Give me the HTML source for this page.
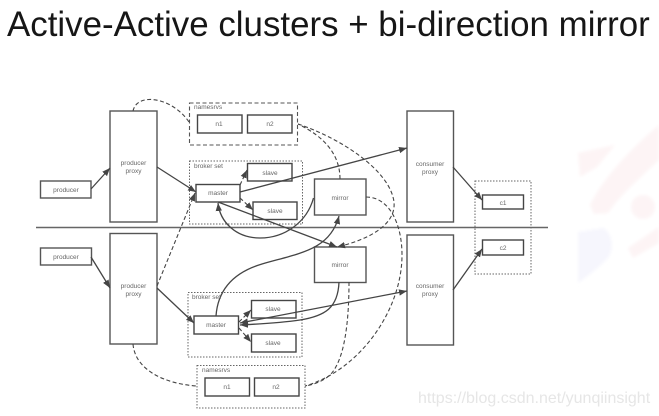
<!DOCTYPE html>
<html><head><meta charset="utf-8"><style>
html,body{margin:0;padding:0;background:#fff}
svg{display:block}
text{font-family:"Liberation Sans",sans-serif}
</style></head><body>
<svg width="659" height="416" viewBox="0 0 659 416" xmlns="http://www.w3.org/2000/svg">
<defs>
<marker id="a" markerWidth="9" markerHeight="8" refX="8" refY="4" orient="auto-start-reverse" markerUnits="userSpaceOnUse"><path d="M0 .8L8 4L0 7.2Z" fill="#444"/></marker>
<filter id="b" x="-5%" y="-5%" width="110%" height="110%"><feGaussianBlur stdDeviation="0.35"/></filter>
<filter id="c" x="-10%" y="-10%" width="120%" height="120%"><feGaussianBlur stdDeviation="1.5"/></filter>
<filter id="t" x="-2%" y="-20%" width="104%" height="140%"><feGaussianBlur stdDeviation="0.3"/></filter>
</defs>
<g filter="url(#c)" fill="#fdf4f5">
<path d="M578 153L615 145L597 167L580 177Z"/>
<path d="M590 205C605 175 635 145 659 125L659 160C640 178 620 195 608 213L594 214Z"/>
<circle cx="643" cy="207" r="12"/>
<path d="M578 232L603 228C612 232 616 250 606 260C598 268 588 276 578 283Z" fill="#f6f6fd"/>
<path d="M628 248L659 227L659 243L633 258Z"/>
</g>
<text x="7" y="36" font-size="34.900" fill="#151515" filter="url(#t)">Active-Active clusters + bi-direction mirror</text>
<g filter="url(#b)">
<line x1="36" y1="227.500" x2="548" y2="227.500" stroke="#666" stroke-width="1.500"/>
<g fill="#fff" stroke="#555" stroke-width="1.400">
<rect x="40.500" y="181" width="50.500" height="17"/>
<rect x="110" y="111" width="47" height="111"/>
<rect x="40.500" y="248" width="51" height="17"/>
<rect x="110" y="233.500" width="47" height="110.500"/>
<rect x="407" y="111" width="46.500" height="111"/>
<rect x="407" y="235" width="46.500" height="110"/>
<rect x="314.500" y="179" width="51.500" height="36"/>
<rect x="314.500" y="247" width="51.500" height="35.500"/>
</g>
<g fill="none">
<rect x="189.500" y="103" width="108" height="42" stroke="#555" stroke-width="1.100" stroke-dasharray="4 2.500"/>
<rect x="189.500" y="161" width="113" height="63" stroke="#666" stroke-width="1" stroke-dasharray="1.500 1.500"/>
<rect x="188" y="292.500" width="114" height="64.500" stroke="#666" stroke-width="1" stroke-dasharray="1.500 1.500"/>
<rect x="197" y="365.500" width="108" height="42.500" stroke="#666" stroke-width="1" stroke-dasharray="1.500 1.500"/>
<rect x="475" y="181" width="56" height="93" stroke="#666" stroke-width="1" stroke-dasharray="1.500 1.500"/>
</g>
<g fill="#fff" stroke="#444" stroke-width="1.400">
<rect x="197.500" y="115" width="44.500" height="18"/>
<rect x="247.500" y="115" width="44.500" height="18"/>
<rect x="247.500" y="163.500" width="44.500" height="17.500"/>
<rect x="196" y="184.500" width="44" height="17.500"/>
<rect x="253" y="202" width="44" height="17.500"/>
<rect x="251.500" y="300.500" width="44.500" height="17.500"/>
<rect x="194" y="316" width="44.500" height="18"/>
<rect x="251.500" y="334" width="44.500" height="18"/>
<rect x="205" y="378" width="44.500" height="18"/>
<rect x="254.500" y="378" width="44.500" height="18"/>
<rect x="482.500" y="195" width="41" height="14"/>
<rect x="482.500" y="240" width="41" height="15"/>
</g>
<g fill="none" stroke="#444" stroke-width="1.300">
<path d="M91 189L110 168" marker-end="url(#a)"/>
<path d="M157 167L196 192" marker-end="url(#a)"/>
<path d="M240 192L407 148" marker-end="url(#a)"/>
<path d="M218 202L337 247" marker-end="url(#a)"/>
<path d="M313.500 198C307 222 285 238 260 238C236 238 220 222 218 203" marker-end="url(#a)"/>
<path d="M216 316C218 288 235 272 262 264C300 253 330 250 339 216" marker-end="url(#a)"/>
<path d="M339 282C338 308 325 316 300 320C280 323 260 324 240 325" marker-end="url(#a)"/>
<path d="M240 323L407 291" marker-start="url(#a)" marker-end="url(#a)"/>
<path d="M91 257L110 288" marker-end="url(#a)"/>
<path d="M157 288L194 323" marker-end="url(#a)"/>
<path d="M453 167L482 200" marker-end="url(#a)"/>
<path d="M453 290L482 249" marker-end="url(#a)"/>
</g>
<g fill="none" stroke="#444" stroke-width="1.100" stroke-dasharray="4 2.500">
<path d="M133 111C137 92 172 97 189 122"/>
<path d="M157 286L195 193" marker-end="url(#a)"/>
<path d="M240 185L247 170" marker-end="url(#a)"/>
<path d="M240 198L253 210" marker-end="url(#a)"/>
<path d="M239 322L251 310" marker-end="url(#a)"/>
<path d="M239 328L251 342" marker-end="url(#a)"/>
<path d="M133 344C135 370 165 384 197 386"/>
<path d="M340 179C340 155 325 137 298 124"/>
<path d="M298 124C340 138 390 170 394 202C396 222 375 238 337 247" marker-end="url(#a)"/>
<path d="M366 197C390 197 402 225 402 255C402 310 360 370 305 386"/>
<path d="M349 282C349 320 345 360 330 375C322 382 312 385 305 386"/>
</g>
<g font-size="6.500" fill="#666" text-anchor="middle">
<text x="66" y="192">producer</text>
<text x="133.500" y="165">producer</text><text x="133.500" y="173">proxy</text>
<text x="66" y="259">producer</text>
<text x="133.500" y="288">producer</text><text x="133.500" y="296">proxy</text>
<text x="430" y="166">consumer</text><text x="430" y="174">proxy</text>
<text x="430" y="288">consumer</text><text x="430" y="296">proxy</text>
<text x="340" y="200">mirror</text>
<text x="340" y="267">mirror</text>
<text x="219" y="126">n1</text><text x="270" y="126">n2</text>
<text x="270" y="175">slave</text>
<text x="218" y="195">master</text>
<text x="275" y="213">slave</text>
<text x="273" y="311">slave</text>
<text x="216" y="327">master</text>
<text x="273" y="345">slave</text>
<text x="227" y="389">n1</text><text x="276" y="389">n2</text>
<text x="503" y="205">c1</text>
<text x="503" y="250">c2</text>
</g>
<g font-size="6.500" fill="#666">
<text x="194" y="109">namesrvs</text>
<text x="194" y="168">broker set</text>
<text x="192" y="299">broker set</text>
<text x="202" y="372">namesrvs</text>
</g>
</g>
<text x="418" y="403" font-size="16" fill="#e6e6e6">https://blog.csdn.net/yunqiinsight</text>
</svg>
</body></html>
